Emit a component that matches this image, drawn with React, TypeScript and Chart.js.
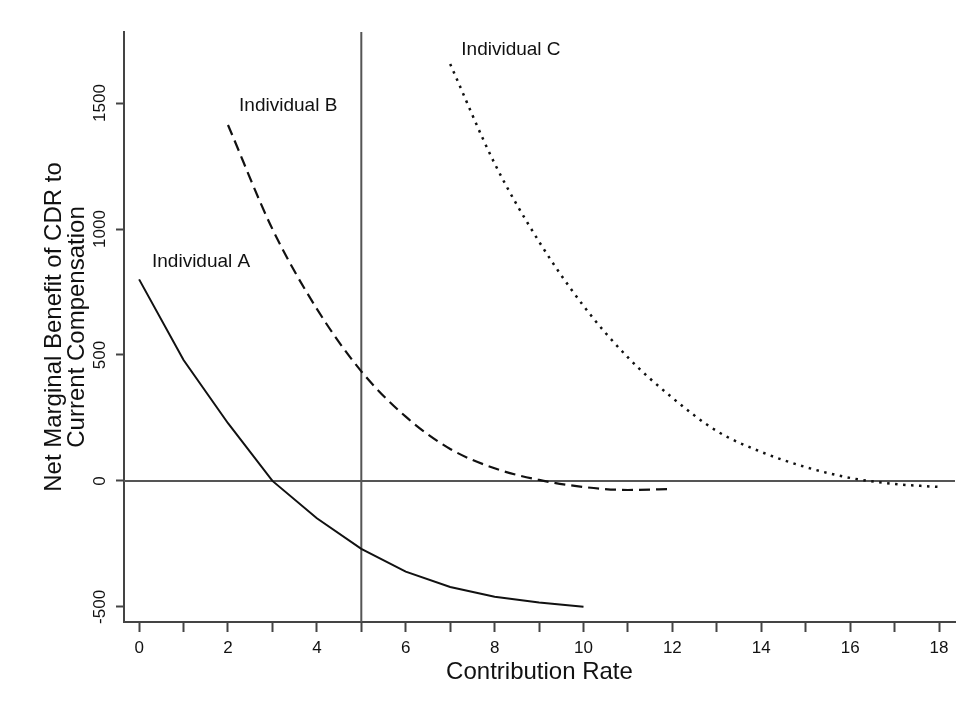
import React, { useEffect, useRef } from "react";
import { Chart, registerables } from "chart.js";

Chart.register(...registerables);

// ---- data ----
const rateA = [0, 1, 2, 3, 4, 5, 6, 7, 8, 9, 10];
const benefitA = [800, 480, 229, 0, -148, -270, -360, -421, -460, -483, -499];

const rateB = [2, 3, 4, 5, 6, 7, 8, 9, 10, 11, 12];
const benefitB = [1413, 1000, 683, 435, 255, 127, 50, 4, -24, -36, -32];

const rateC = [7, 8, 9, 10, 11, 12, 13, 14, 15, 16, 17, 18];
const benefitC = [1655, 1260, 950, 695, 490, 330, 198, 115, 55, 12, -12, -24];

const xTickValues = [0, 1, 2, 3, 4, 5, 6, 7, 8, 9, 10, 11, 12, 13, 14, 15, 16, 17, 18];
const yTickValues = [-500, 0, 500, 1000, 1500];

const referenceRate = 5;
const referenceBenefit = 0;

const xRange = [-0.34, 18.36];
const yRange = [-560, 1782];

const labelTexts = ["Individual A", "Individual B", "Individual C"];
const labelRates = [0.29, 2.25, 7.25];
const labelBenefits = [849, 1469, 1690];

const FONT = "'Liberation Sans', Arial, Helvetica, sans-serif";

const pts = (xs: number[], ys: number[]) => xs.map((x, i) => ({ x, y: ys[i] }));

const overlayPlugin = {
  id: "overlay",
  afterDraw(chart: any) {
    const { ctx, scales } = chart;
    const xs = scales.x;
    const ys = scales.y;
    ctx.save();
    // y tick labels, rotated
    ctx.fillStyle = "#111";
    ctx.font = `17px ${FONT}`;
    ctx.textAlign = "center";
    ctx.textBaseline = "middle";
    yTickValues.forEach((v) => {
      const py = ys.getPixelForValue(v);
      ctx.save();
      ctx.translate(100, py);
      ctx.rotate(-Math.PI / 2);
      ctx.fillText(String(v), 0, 0);
      ctx.restore();
    });
    // curve labels
    ctx.font = `19px ${FONT}`;
    ctx.textAlign = "left";
    ctx.textBaseline = "alphabetic";
    ctx.fillStyle = "#111";
    labelTexts.forEach((t, i) => {
      ctx.fillText(t, xs.getPixelForValue(labelRates[i]), ys.getPixelForValue(labelBenefits[i]));
    });
    ctx.restore();
  },
};

export default function App() {
  const ref = useRef<HTMLCanvasElement | null>(null);

  useEffect(() => {
    if (!ref.current) return;
    const chart = new Chart(ref.current, {
      type: "line",
      data: {
        datasets: [
          {
            label: "ref-v",
            data: [
              { x: referenceRate, y: yRange[0] },
              { x: referenceRate, y: yRange[1] },
            ],
            borderColor: "#555",
            borderWidth: 2,
            pointRadius: 0,
            order: 3,
          },
          {
            label: "ref-h",
            data: [
              { x: xRange[0], y: referenceBenefit },
              { x: xRange[1], y: referenceBenefit },
            ],
            borderColor: "#555",
            borderWidth: 2,
            pointRadius: 0,
            order: 3,
          },
          {
            label: "Individual A",
            data: pts(rateA, benefitA),
            borderColor: "#111",
            borderWidth: 2,
            pointRadius: 0,
            tension: 0,
            order: 1,
          },
          {
            label: "Individual B",
            data: pts(rateB, benefitB),
            borderColor: "#111",
            borderWidth: 2.2,
            borderDash: [11, 6],
            pointRadius: 0,
            cubicInterpolationMode: "monotone",
            order: 1,
          },
          {
            label: "Individual C",
            data: pts(rateC, benefitC),
            borderColor: "#111",
            borderWidth: 2.5,
            borderDash: [2.5, 5.5],
            pointRadius: 0,
            cubicInterpolationMode: "monotone",
            order: 1,
          },
        ],
      },
      options: {
        animation: false,
        responsive: false,
        devicePixelRatio: 1,
        layout: { padding: { top: 32, right: 14, left: 0, bottom: 0 } },
        plugins: {
          legend: { display: false },
          tooltip: { enabled: false },
        },
        elements: { line: { fill: false } },
        scales: {
          x: {
            type: "linear",
            min: xRange[0],
            max: xRange[1],
            afterBuildTicks: (s: any) => {
              s.ticks = xTickValues.map((v) => ({ value: v }));
            },
            afterFit: (s: any) => {
              s.height = 87;
            },
            ticks: {
              autoSkip: false,
              maxRotation: 0,
              minRotation: 0,
              padding: 6,
              color: "#111",
              font: { family: FONT, size: 17 },
              callback: (v: any) => (Number(v) % 2 === 0 ? String(v) : ""),
            },
            grid: {
              drawOnChartArea: false,
              drawTicks: true,
              tickLength: 10,
              tickWidth: 2,
              tickColor: "#444",
              color: "#444",
            },
            border: { display: true, color: "#444", width: 2 },
            title: {
              display: true,
              text: "Contribution Rate",
              color: "#111",
              font: { family: FONT, size: 24, lineHeight: 1 },
              padding: { top: 0, bottom: 25 },
            },
          },
          y: {
            type: "linear",
            min: yRange[0],
            max: yRange[1],
            afterBuildTicks: (s: any) => {
              s.ticks = yTickValues.map((v) => ({ value: v }));
            },
            afterFit: (s: any) => {
              s.width = 124;
            },
            ticks: {
              autoSkip: false,
              color: "#111",
              font: { family: FONT, size: 16 },
              callback: () => "",
            },
            grid: {
              drawOnChartArea: false,
              drawTicks: true,
              tickLength: 8,
              tickWidth: 2,
              tickColor: "#444",
              color: "#444",
            },
            border: { display: true, color: "#444", width: 2 },
            title: {
              display: true,
              text: ["Net Marginal Benefit of CDR to", "Current Compensation"],
              color: "#111",
              font: { family: FONT, size: 24, lineHeight: 0.96 },
              padding: { top: 43, bottom: 0 },
            },
          },
        },
      },
      plugins: [overlayPlugin],
    } as any);
    return () => chart.destroy();
  }, []);

  return (
    <div style={{ position: "absolute", left: 0, top: 0, width: 969, height: 709, background: "#fff" }}>
      <canvas ref={ref} width={969} height={709} style={{ width: 969, height: 709, display: "block" }} />
    </div>
  );
}
